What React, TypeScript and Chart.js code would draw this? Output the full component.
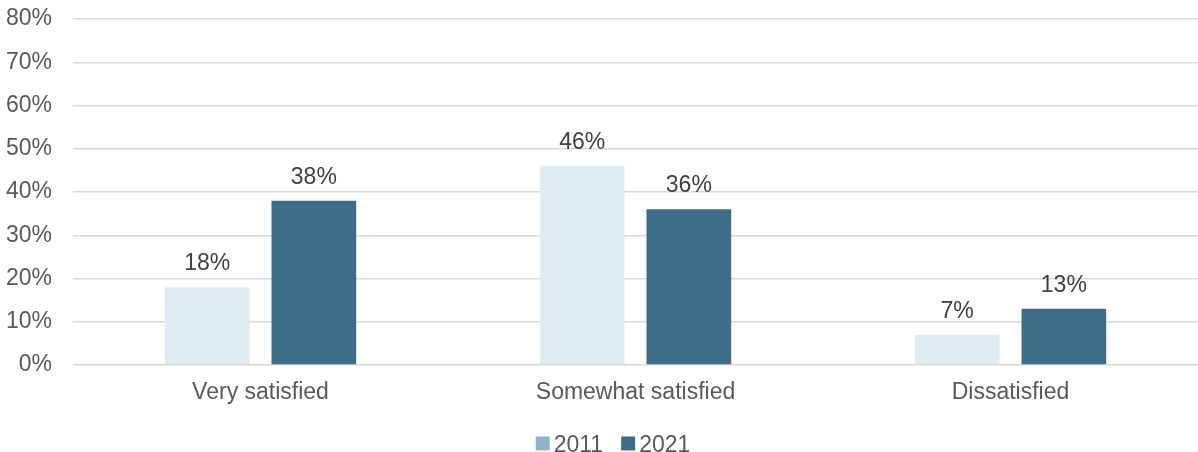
import React, { useEffect, useRef } from "react";
import { Chart, registerables } from "chart.js";

Chart.register(...registerables);

const categories = ["Very satisfied", "Somewhat satisfied", "Dissatisfied"];
const series2011 = [18, 46, 7];
const series2021 = [38, 36, 13];
const seriesNames = ["2011", "2021"];
const yTicks = [0, 10, 20, 30, 40, 50, 60, 70, 80];

const FONT = "'Liberation Sans', Arial, sans-serif";
const TEXT = "#595959";
const FS = 23;
const BAR_COLORS = ["#e0ebf1", "#3f6d89"];
const LEGEND_COLORS = ["#8bb5c7", "#3f6d89"];

const dataLabels = {
  id: "dataLabels",
  afterDatasetsDraw(chart: any) {
    const ctx = chart.ctx;
    ctx.save();
    ctx.font = `${FS}px ${FONT}`;
    ctx.fillStyle = "#404040";
    ctx.textAlign = "center";
    ctx.textBaseline = "alphabetic";
    chart.data.datasets.forEach((ds: any, i: number) => {
      const meta = chart.getDatasetMeta(i);
      meta.data.forEach((bar: any, j: number) => {
        ctx.fillText(ds.data[j] + "%", bar.x, bar.y - 17);
      });
    });
    ctx.restore();
  },
};

const customLegend = {
  id: "customLegend",
  afterDraw(chart: any) {
    const ctx = chart.ctx;
    ctx.save();
    ctx.font = `${FS}px ${FONT}`;
    ctx.textBaseline = "alphabetic";
    ctx.textAlign = "left";
    const box = 14;
    const boxGap = 4;
    const itemGap = 18;
    const widths = chart.data.datasets.map((ds: any) => ctx.measureText(ds.label).width);
    const total =
      widths.reduce((a: number, w: number) => a + box + boxGap + w, 0) + itemGap * (widths.length - 1);
    let x = 613 - total / 2;
    const cy = 443.5;
    chart.data.datasets.forEach((ds: any, i: number) => {
      ctx.fillStyle = ds.legendColor;
      ctx.fillRect(x, cy - box / 2, box, box);
      x += box + boxGap;
      ctx.fillStyle = TEXT;
      ctx.fillText(ds.label, x, 451.5);
      x += widths[i] + itemGap;
    });
    ctx.restore();
  },
};

export default function App() {
  const ref = useRef<HTMLCanvasElement>(null);
  useEffect(() => {
    const chart = new Chart(ref.current!, {
      type: "bar",
      data: {
        labels: categories,
        datasets: [
          { label: seriesNames[0], data: series2011, backgroundColor: BAR_COLORS[0], legendColor: LEGEND_COLORS[0] } as any,
          { label: seriesNames[1], data: series2021, backgroundColor: BAR_COLORS[1], legendColor: LEGEND_COLORS[1] } as any,
        ],
      },
      options: {
        animation: false,
        responsive: false,
        maintainAspectRatio: false,
        layout: { padding: { top: 19, right: -6, left: 0, bottom: 27 } },
        datasets: { bar: { categoryPercentage: 0.569, barPercentage: 0.794 } },
        plugins: {
          tooltip: { enabled: false },
          legend: { display: false },
        },
        scales: {
          x: {
            grid: { display: false },
            border: { display: false },
            ticks: { font: { family: FONT, size: FS }, color: TEXT, padding: 6 },
            afterFit: (scale: any) => {
              scale.height = 60;
            },
          },
          y: {
            min: 0,
            max: 80,
            afterBuildTicks: (scale: any) => {
              scale.ticks = yTicks.map((v) => ({ value: v }));
            },
            afterFit: (scale: any) => {
              scale.width = 73;
            },
            grid: {
              color: "#d9d9d9",
              lineWidth: 1.5,
              drawTicks: true,
              tickLength: 21,
              tickColor: "rgba(0,0,0,0)",
            },
            border: { display: false },
            ticks: {
              font: { family: FONT, size: FS },
              color: TEXT,
              padding: 0,
              callback: (v: any) => v + "%",
            },
          },
        },
      },
      plugins: [dataLabels, customLegend],
    });
    return () => chart.destroy();
  }, []);
  return (
    <div style={{ position: "fixed", left: 0, top: 0, width: 1198, height: 452, background: "#fff" }}>
      <canvas ref={ref} width={1198} height={452} />
    </div>
  );
}
